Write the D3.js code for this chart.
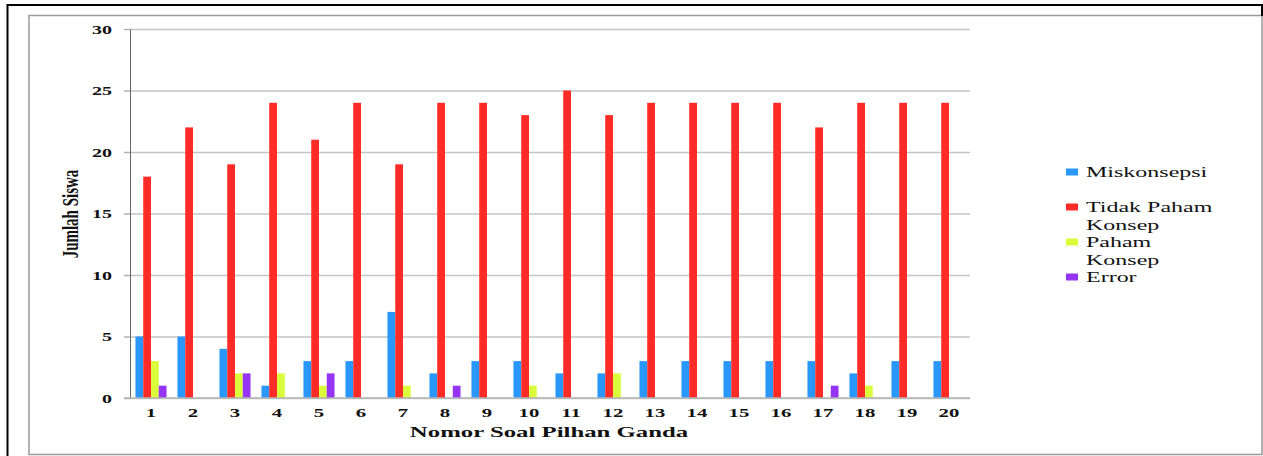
<!DOCTYPE html>
<html>
<head>
<meta charset="utf-8">
<script src="https://cdn.jsdelivr.net/npm/d3@7"></script>
<style>
  html, body { margin: 0; padding: 0; background: #fff; }
  text { font-family: "Liberation Serif", "Times New Roman", serif; fill: #111; }
</style>
</head>
<body>
<div id="chart"></div>
<script>
"use strict";

// data
var soal = ["1","2","3","4","5","6","7","8","9","10","11","12","13","14","15","16","17","18","19","20"];
var seriesNames = ["Miskonsepsi", "Tidak Paham Konsep", "Paham Konsep", "Error"];
var miskonsepsi = [5,5,4,1,3,3,7,2,3,3,2,2,3,3,3,3,3,2,3,3];
var tidakPaham  = [18,22,19,24,21,24,19,24,24,23,25,23,24,24,24,24,22,24,24,24];
var pahamKonsep = [3,0,2,2,1,0,1,0,0,1,0,2,0,0,0,0,0,1,0,0];
var errorVals   = [1,0,2,0,2,0,0,1,0,0,0,0,0,0,0,0,1,0,0,0];
var yTicks = [0,5,10,15,20,25,30];

var colors = ["#2a97fb", "#fe2b27", "#dbfc3a", "#9534f2"];
var allSeries = [miskonsepsi, tidakPaham, pahamKonsep, errorVals];

var W = 1263, H = 456;
var plot = { left: 130, right: 970, top: 29, bottom: 398 };
var sx = 1.6;   // the picture is stretched sideways, so is the text

var svg = d3.select("#chart").append("svg")
  .attr("width", W).attr("height", H);

// frames
svg.append("rect").attr("x", 29).attr("y", 15.5).attr("width", 1233).attr("height", 439)
  .attr("fill", "#fff").attr("stroke", "#9a9a9a").attr("stroke-width", 1.5);
svg.append("line").attr("x1", 7).attr("x2", 1262).attr("y1", 5).attr("y2", 5)
  .attr("stroke", "#000").attr("stroke-width", 2);
svg.append("line").attr("x1", 7.5).attr("x2", 7.5).attr("y1", 4).attr("y2", H)
  .attr("stroke", "#000").attr("stroke-width", 2);
svg.append("line").attr("x1", 1262).attr("x2", 1262).attr("y1", 4).attr("y2", 16)
  .attr("stroke", "#000").attr("stroke-width", 2);

var x0 = d3.scaleBand().domain(soal)
  .range([plot.left, plot.right])
  .paddingInner(0.26).paddingOuter(0.13);
var x1 = d3.scaleBand().domain(seriesNames).range([0, x0.bandwidth()]);
var y = d3.scaleLinear().domain([0, 30]).range([plot.bottom, plot.top]);

// gridlines
svg.append("g")
  .attr("transform", "translate(" + plot.left + ",0)")
  .call(d3.axisLeft(y).tickValues(yTicks).tickSize(-(plot.right - plot.left)).tickFormat(""))
  .call(function(g) {
    g.select(".domain").remove();
    g.selectAll("line").attr("stroke", "#c4c4c4").attr("stroke-width", 1.6);
  });

// y axis
svg.append("g")
  .attr("transform", "translate(" + plot.left + ",0)")
  .call(d3.axisLeft(y).tickValues(yTicks).tickSize(6).tickPadding(18))
  .call(function(g) {
    g.select(".domain").attr("stroke", "#666").attr("stroke-width", 1);
    g.selectAll("line").attr("stroke", "#b0b0b0").attr("stroke-width", 1.5);
    g.selectAll("text")
      .attr("font-family", "Liberation Serif").attr("font-weight", "bold")
      .attr("font-size", 12.5).attr("fill", "#111")
      .attr("transform", "translate(-18,0) scale(" + sx + ",1)")
      .attr("x", 0).attr("dy", "0.34em");
  });

// bars
var groups = svg.append("g").selectAll("g")
  .data(soal).enter().append("g")
  .attr("transform", function(d) { return "translate(" + x0(d) + ",0)"; });

groups.selectAll("rect")
  .data(function(d, i) {
    return seriesNames.map(function(s, k) { return { key: s, k: k, value: allSeries[k][i] }; });
  })
  .enter().append("rect")
  .attr("x", function(d) { return x1(d.key); })
  .attr("y", function(d) { return y(d.value); })
  .attr("width", x1.bandwidth())
  .attr("height", function(d) { return y(0) - y(d.value); })
  .attr("fill", function(d) { return colors[d.k]; });

// x axis
svg.append("g")
  .attr("transform", "translate(0," + plot.bottom + ")")
  .call(d3.axisBottom(x0).tickSize(0))
  .call(function(g) {
    g.select(".domain").remove();
    g.selectAll("text")
      .attr("font-family", "Liberation Serif").attr("font-weight", "bold")
      .attr("font-size", 13).attr("fill", "#111")
      .attr("y", 0).attr("dy", 0)
      .attr("transform", "translate(0,19) scale(" + sx + ",1)");
  });
svg.append("line")
  .attr("x1", plot.left - 6).attr("x2", plot.right)
  .attr("y1", plot.bottom).attr("y2", plot.bottom)
  .attr("stroke", "#b4b4b4").attr("stroke-width", 1.5);

// axis titles
svg.append("text")
  .attr("transform", "translate(549,437) scale(" + sx + ",1)")
  .attr("text-anchor", "middle")
  .attr("font-weight", "bold").attr("font-size", 15.5)
  .text("Nomor Soal Pilhan Ganda");

svg.append("text")
  .attr("transform", "translate(78,214) rotate(-90) scale(1," + sx + ")")
  .attr("text-anchor", "middle")
  .attr("font-weight", "bold").attr("font-size", 15)
  .text("Jumlah Siswa");

// legend
var legendLines = [["Miskonsepsi"], ["Tidak Paham", "Konsep"], ["Paham", "Konsep"], ["Error"]];
var legendY = [172, 207, 242, 277];
var legend = svg.append("g");
legendLines.forEach(function(lines, i) {
  legend.append("rect")
    .attr("x", 1066).attr("y", legendY[i] - 3.5)
    .attr("width", 12).attr("height", 7)
    .attr("fill", colors[i]);
  lines.forEach(function(t, j) {
    legend.append("text")
      .attr("transform", "translate(1086," + (legendY[i] + 5 + j * 17.5) + ") scale(" + sx + ",1)")
      .attr("font-size", 15)
      .text(t);
  });
});
</script>
</body>
</html>
